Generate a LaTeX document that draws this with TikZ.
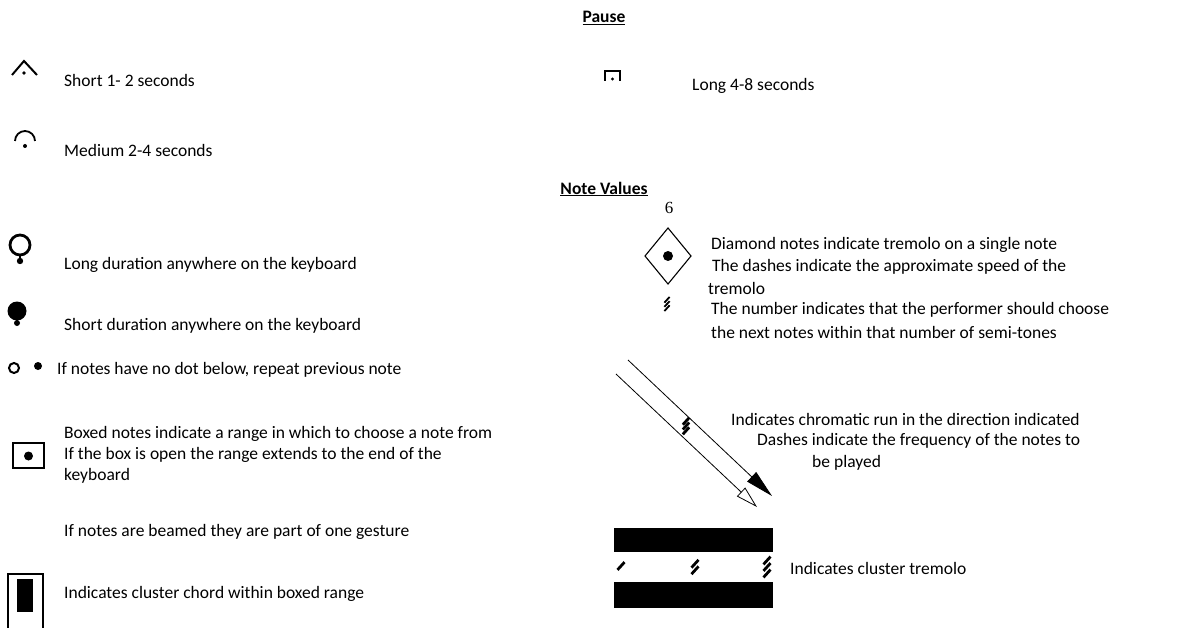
\documentclass[tikz,border=0pt]{standalone}
\usepackage{fontspec}
\setmainfont{Carlito}
\newfontfamily\numfont{Liberation Serif}
\usetikzlibrary{arrows.meta}
\newcommand\txt{\fontsize{17.5}{21}\selectfont}
% tremolo dashes: x, y, count, half width, spacing
\newcommand\trem[5]{%
  \foreach \k in {1,...,#3}
    \draw[slash] ({#1-#4},{#2+1.1*#4+#5*(\k-(#3+1)/2)}) -- ({#1+#4},{#2-1.1*#4+#5*(\k-(#3+1)/2)});}

\begin{document}
\begin{tikzpicture}[x=1pt,y=-1pt,
				lbl/.style={anchor=west,inner sep=0pt,font=\txt},
				head/.style={inner sep=0pt,font=\txt\bfseries},
				slash/.style={line width=2.8pt},
				>=Triangle]
				\useasboundingbox (0,0) rectangle (1199,628);
				
				% Pause
				\node[head] (pause) at (604,18) {\underline{Pause}};
				\draw[line width=2pt] (12,75) -- (24,61) -- (37,75);
				\fill (24,73) circle (1.8pt);
				\node[lbl] (short) at (64,80) {Short 1- 2 seconds};
				\draw[line width=2.2pt] (605,81) -- (605,71) -- (620,71) -- (620,81);
				\fill (612.5,79) circle (1.7pt);
				\node[lbl] (long) at (692,86) {Long 4-8 seconds};
				\draw[line width=1.8pt] (15,141) arc (180:0:10pt);
				\fill (25,146) circle (2pt);
				\node[lbl] (medium) at (64,150) {Medium 2-4 seconds};
				
				% Note values
				\node[head] (values) at (604,189) {\underline{Note Values}};
				\draw[line width=2.8pt] (20,245) circle (10pt);
				\draw[line width=2pt] (20,256) -- (20,261);
				\fill (20,261) circle (3.2pt);
				\node[lbl] (longdur) at (64,265) {Long duration anywhere on the keyboard};
				\fill (17,311) circle (9.5pt);
				\draw[line width=2pt] (17,318) -- (17,323);
				\fill (17,323) circle (3pt);
				\node[lbl] (shortdur) at (64,326) {Short duration anywhere on the keyboard};
				\draw[line width=2pt] (14,368) circle (5pt);
				\fill (38,366) circle (4pt);
				\node[lbl] (repeat) at (57,370) {If notes have no dot below, repeat previous note};
				\draw[line width=1.6pt] (13,443) rectangle (44,468);
				\fill (28.5,456) circle (4.5pt);
				\node[lbl] (box1) at (64,434) {Boxed notes indicate a range in which to choose a note from};
				\node[lbl] (box2) at (64,455) {If the box is open the range extends to the end of the};
				\node[lbl] (box3) at (64,476) {keyboard};
				\node[lbl] (beamed) at (64,532) {If notes are beamed they are part of one gesture};
				\draw[line width=1.8pt] (8,630) -- (8,574) -- (43,574) -- (43,630);
				\fill (17,579) rectangle (33,612);
				\node[lbl] (chord) at (64,594) {Indicates cluster chord within boxed range};
				
				% Diamond
				\node[font=\numfont\fontsize{17}{20}\selectfont,inner sep=0pt] (six) at (669,208) {6};
				\draw[line width=1.1pt] (668,228) -- (691,256) -- (668,284) -- (645,256) -- cycle;
				\fill (668,256) circle (5pt);
				\begin{scope}[slash/.style={line width=1.8pt}]
					\trem{667}{304}{3}{2.6}{4.2}
				\end{scope}
				\node[lbl] (dia1) at (711,245) {Diamond notes indicate tremolo on a single note};
				\node[lbl] (dia2) at (712,267) {The dashes indicate the approximate speed of the};
				\node[lbl] (dia3) at (708,288) {tremolo};
				\node[lbl] (dia4) at (711,310) {The number indicates that the performer should choose};
				\node[lbl] (dia5) at (711,332) {the next notes within that number of semi-tones};
				
				% Chromatic run
				\coordinate (runA) at (628,360);
				\coordinate (runB) at (772,496);
				\coordinate (runC) at (616,374);
				\coordinate (runD) at (757,507);
				\draw[line width=0.8pt,-{Triangle[length=28pt,width=13pt]}] (runA) -- (runB);
				\draw[line width=0.8pt,-{Triangle[open,length=22pt,width=12pt]}] (runC) -- (runD);
				\trem{686}{426}{3}{3.2}{4.8}
				\node[lbl] (run1) at (731,419) {Indicates chromatic run in the direction indicated};
				\node[lbl] (run2) at (757,441) {Dashes indicate the frequency of the notes to};
				\node[lbl] (run3) at (812,463) {be played};
				
				% Cluster tremolo
				\fill (614,528) rectangle (773,552);
				\fill (614,582) rectangle (773,608);
				\trem{621}{566}{1}{3.5}{6.5}
				\trem{695}{567}{2}{3.5}{6.5}
				\trem{767}{567}{3}{3.5}{6.5}
				\node[lbl] (tremolo) at (790,568) {Indicates cluster tremolo};
			\end{tikzpicture}
\end{document}
